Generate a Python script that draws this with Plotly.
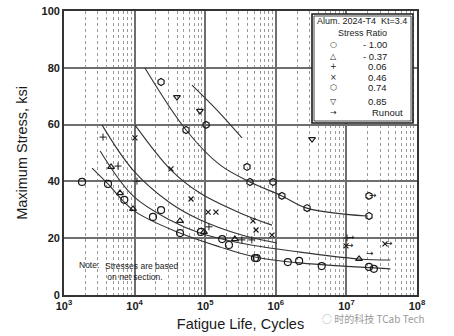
import plotly.graph_objects as go

# ---------------- data ----------------
# R = -1.00  (open circles)
n_m100 = [1800, 4200, 7150, 18200, 23700, 44000, 87000, 174000, 217000, 507000, 537000,
          1.48e6, 2.14e6, 4.47e6, 2.09e7, 2.45e7]
s_m100 = [39.8, 39.1, 33.5, 27.5, 29.9, 21.8, 22.2, 19.7, 17.6, 13.0, 13.0,
          11.6, 12.0, 10.2, 9.9, 9.2]
# R = -0.37  (triangles)
n_m037 = [4640, 6210, 9490, 44000, 96000, 263000, 1.51e7]
s_m037 = [45.1, 35.9, 30.3, 26.1, 22.2, 19.7, 12.7]
# R = 0.06  (plus)
n_006 = [3570, 5820, 10800, 113000, 331000, 457000, 1.02e7]
s_006 = [55.6, 45.4, 40.1, 24.0, 19.4, 19.4, 20.1]
# R = 0.46  (x)
n_046 = [10100, 32800, 63000, 110000, 142000, 475000, 525000, 883000, 9.86e6, 3.52e7]
s_046 = [55.3, 44.4, 33.8, 29.2, 29.2, 26.1, 22.9, 21.1, 17.3, 18.0]
# R = 0.74
n_074 = [23700, 53500, 103000, 391000, 431000, 912000, 1.22e6, 2.77e6, 2.09e7, 2.09e7]
s_074 = [75.0, 58.1, 59.9, 45.1, 39.8, 39.8, 34.9, 30.6, 27.8, 34.9]
# R = 0.85  (inverted triangles)
n_085 = [39800, 84300, 3.26e6]
s_085 = [69.7, 64.8, 54.9]

# runouts (arrow to the right of the point)
runout_n = [1.02e7, 9.86e6, 3.52e7, 2.09e7]
runout_s = [20.1, 17.3, 18.0, 34.9]
runout_bare_n = [2.14e7]
runout_bare_s = [14.4]

# fitted curves
cv_m100_n = [2500, 4100, 9500, 44000, 162000, 507000, 2.2e6, 4.2e7]
cv_m100_s = [44.7, 39.4, 29.9, 21.8, 16.9, 13.4, 11.3, 9.2]
cv_m037_n = [3250, 9500, 31600, 84300, 311000, 2.2e6, 1.5e7, 4.2e7]
cv_m037_s = [50.7, 34.9, 26.4, 21.8, 18.3, 15.1, 12.7, 12.3]
cv_006_n = [3450, 9490, 31600, 84300, 311000, 1.04e6]
cv_006_s = [59.9, 44.0, 32.5, 26.5, 21.3, 18.3]
cv_046_n = [10100, 32800, 84300, 311000, 883000]
cv_046_s = [59.9, 44.0, 35.9, 28.9, 24.6]
cv_074_n = [14000, 53500, 162000, 431000, 1.22e6, 2.75e6, 1.95e7]
cv_074_s = [79.9, 58.1, 45.8, 39.8, 34.9, 30.6, 27.8]
cv_085_n = [65000, 147000, 332000]
cv_085_s = [73.9, 65.1, 55.3]

x_tickvals = [1e3, 1e4, 1e5, 1e6, 1e7, 1e8]
x_ticktext = ["10<sup>3</sup>", "10<sup>4</sup>", "10<sup>5</sup>", "10<sup>6</sup>",
              "10<sup>7</sup>", "10<sup>8</sup>"]
y_tickvals = [0, 20, 40, 60, 80, 100]

legend_title = ["Alum. 2024-T4  Kt=3.4", "Stress Ratio"]
legend_syms = ["○", "△", "+", "×", "⬡", "▽", "→"]
legend_labels = ["- 1.00", "- 0.37", "0.06", "0.46", "0.74", "0.85", "Runout"]

# ---------------- figure ----------------
INK = "#1a1a1a"
FONT = "Liberation Sans, Arial, sans-serif"
L, R, T, B = 64, 37, 11, 41
PW, PH = 454 - L - R, 336 - T - B

def px(x):
    return (x - L) / PW

def py(y):
    return (336 - B - y) / PH

def note(x, y, text, xa="center", size=9.5, family=FONT, color=INK, align="center"):
    fig.add_annotation(xref="paper", yref="paper", x=px(x), y=py(y), xanchor=xa, yanchor="middle",
                       text=text, showarrow=False, align=align,
                       font=dict(size=size, family=family, color=color))

fig = go.Figure()

for cn, cs in [(cv_m100_n, cv_m100_s), (cv_m037_n, cv_m037_s), (cv_006_n, cv_006_s),
               (cv_046_n, cv_046_s), (cv_074_n, cv_074_s), (cv_085_n, cv_085_s)]:
    fig.add_trace(go.Scatter(x=cn, y=cs, mode="lines",
                             line=dict(color="#333", width=1.1, shape="spline", smoothing=1.0),
                             hoverinfo="skip", showlegend=False))

def pts(n, s, sym, size, w=1.2):
    fig.add_trace(go.Scatter(x=n, y=s, mode="markers", showlegend=False,
                             marker=dict(symbol=sym, size=size, color=INK,
                                         line=dict(color=INK, width=w))))

pts(n_m100, s_m100, "circle-open", 7)
pts(n_m037, s_m037, "triangle-up-open", 6)
pts(n_006, s_006, "cross-thin-open", 5, 1)
pts(n_046, s_046, "x-thin-open", 5, 1.2)
pts(n_074, s_074, "hexagon-open", 7)
pts(n_085, s_085, "triangle-down-open", 6)

fig.add_trace(go.Scatter(x=runout_n, y=runout_s, mode="text", text=["→"] * len(runout_n),
                         textposition="middle right", textfont=dict(size=9, color=INK, family="DejaVu Sans"),
                         showlegend=False, hoverinfo="skip"))
fig.add_trace(go.Scatter(x=runout_bare_n, y=runout_bare_s, mode="text", text=["→"] * len(runout_bare_n),
                         textposition="middle center", textfont=dict(size=9, color=INK, family="DejaVu Sans"),
                         showlegend=False, hoverinfo="skip"))

# note box
fig.add_shape(type="rect", xref="paper", yref="paper", x0=px(75), x1=px(183), y0=py(287), y1=py(255),
              fillcolor="white", line=dict(width=0), layer="between")
note(77, 265, "Note:", xa="left", size=8.5)
note(103, 271, "Stresses are based<br> on net section.", xa="left", size=8.5, align="left")

# legend box
fig.add_shape(type="rect", xref="paper", yref="paper", x0=px(312), x1=px(413), y0=py(123), y1=py(14),
              fillcolor="white", line=dict(color=INK, width=1.6), layer="above")
fig.add_shape(type="rect", xref="paper", yref="paper", x0=px(314), x1=px(411), y0=py(121), y1=py(16),
              fillcolor="rgba(0,0,0,0)", line=dict(color=INK, width=0.8), layer="above")
title_y = [21, 33]
for t, yy in zip(legend_title, title_y):
    note(362, yy, t, size=9)
row_y = [45, 56, 66, 77, 88, 101, 113]
for sym, lab, yy in zip(legend_syms, legend_labels, row_y):
    note(333, yy, sym, size=8, family="DejaVu Sans")
    if lab == "Runout":
        note(370, yy, lab, xa="left")
    else:
        note(389, yy, lab, xa="right")

# watermark
note(320, 319, "◌ 时的科技 TCab Tech", xa="left", size=10,
     family="Noto Sans CJK SC, DejaVu Sans", color="#9a9a9a")

fig.update_xaxes(type="log", range=[3, 8], tickvals=x_tickvals, ticktext=x_ticktext,
                 tickfont=dict(size=11, family=FONT, color=INK, weight="bold"),
                 showgrid=True, gridcolor="#6e6e6e", gridwidth=1.6,
                 minor=dict(dtick="D1", showgrid=True, gridcolor="#9a9a9a", griddash="dot", gridwidth=1),
                 showline=True, linecolor="#333", linewidth=1.8, mirror=True, ticks="", zeroline=False,
                 automargin=False,
                 title=dict(text="Fatigue Life, Cycles", font=dict(size=14.5, family=FONT, color=INK), standoff=8))
fig.update_yaxes(range=[0, 100], tickvals=y_tickvals,
                 tickfont=dict(size=11, family=FONT, color=INK, weight="bold"),
                 showgrid=True, gridcolor="#6e6e6e", gridwidth=1.6,
                 showline=True, linecolor="#333", linewidth=1.8, mirror=True, ticks="", zeroline=False,
                 automargin=False,
                 title=dict(text="Maximum Stress, ksi", font=dict(size=14.5, family=FONT, color=INK), standoff=10))

fig.update_layout(width=454, height=336, margin=dict(l=L, r=R, t=T, b=B, autoexpand=False),
                  paper_bgcolor="white", plot_bgcolor="white", showlegend=False)
fig.write_html("out.html")
